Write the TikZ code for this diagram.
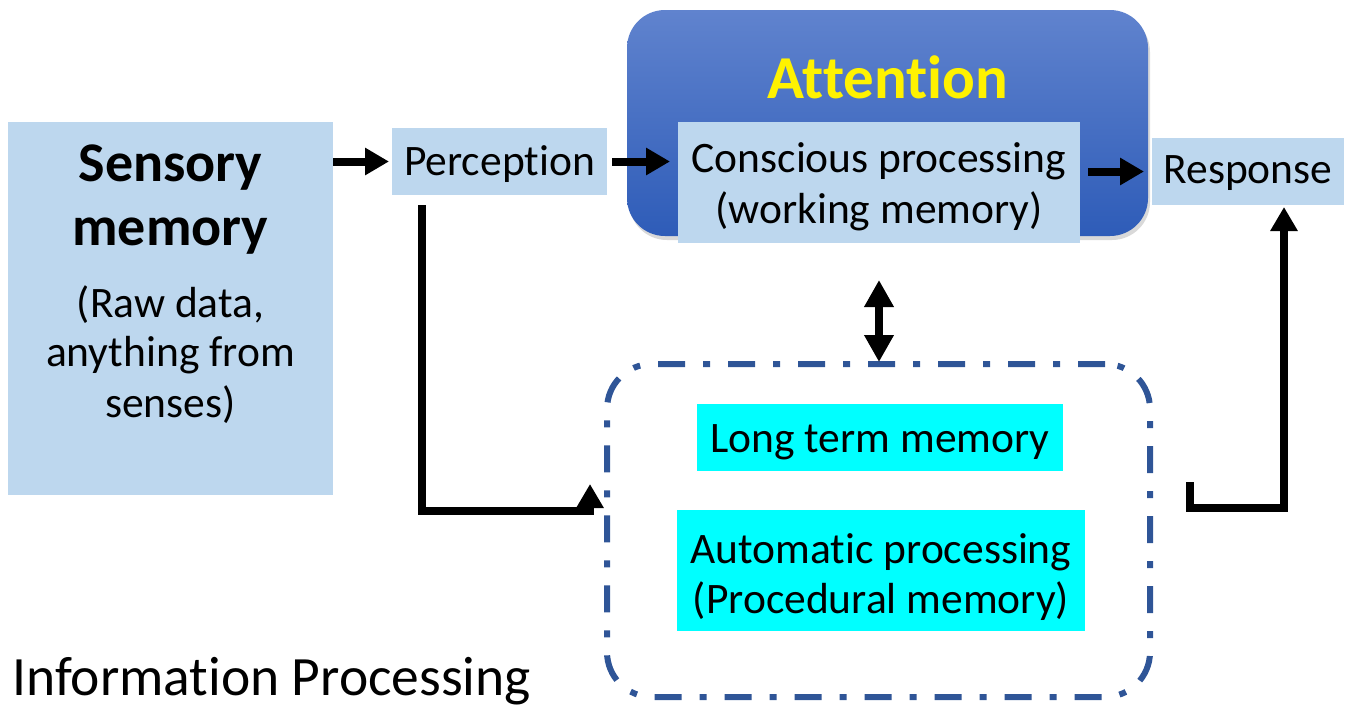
\documentclass[tikz,border=0pt]{standalone}
\usepackage{fontspec}
\setmainfont{Carlito}[Ligatures=NoCommon]
\usetikzlibrary{arrows.meta,shadows}
\definecolor{lblue}{RGB}{189,215,238}
\definecolor{attop}{RGB}{96,131,206}
\definecolor{atbot}{RGB}{46,92,184}
\definecolor{dashblue}{RGB}{47,85,151}
\definecolor{cyanbox}{RGB}{0,255,255}
\begin{document}
\begin{tikzpicture}[x=1pt,y=-1pt,
  box/.style={fill=lblue, inner sep=0pt, outer sep=0pt},
  cbox/.style={fill=cyanbox, inner sep=0pt, outer sep=0pt},
  txt/.style={inner sep=0pt, anchor=base, font=\fontsize{43.5}{50}\selectfont},
  btxt/.style={inner sep=0pt, anchor=base, font=\fontsize{56}{64}\selectfont\bfseries},
  arr/.style={line width=8pt, -{Triangle[length=24pt,width=26pt]}},
  dblarr/.style={line width=8pt, {Triangle[length=27pt,width=28pt]}-{Triangle[length=27pt,width=28pt]}},
]
\useasboundingbox (0,0) rectangle (1349,707);

% Attention panel
\node[rounded corners=38pt, top color=attop, bottom color=atbot, draw=none,
      minimum width=521pt, minimum height=226pt, inner sep=0pt, outer sep=0pt,
      drop shadow={shadow xshift=2pt, shadow yshift=-4pt, opacity=0.3}] (attn) at (887.5,123) {};
\node[inner sep=0pt, anchor=base, text=yellow, font=\fontsize{61}{70}\selectfont\bfseries] (ta) at (888,98) {Attention};

% boxes
\node[box, minimum width=325pt, minimum height=373pt] (sens) at (170.5,308.5) {};
\node[box, minimum width=215pt, minimum height=67pt] (perc) at (499.5,161.5) {};
\node[box, minimum width=402pt, minimum height=121pt] (cons) at (879,182.5) {};
\node[box, minimum width=192pt, minimum height=67pt] (resp) at (1248,171.5) {};

% long-term memory region
\node[draw=dashblue, line width=6pt, rounded corners=45pt,
      dash pattern=on 27pt off 18pt on 7pt off 18pt,
      minimum width=543pt, minimum height=333pt, inner sep=0pt, outer sep=0pt] (ltmem) at (878.5,530.5) {};
\node[cbox, minimum width=366pt, minimum height=67pt] (ltm) at (880,437.5) {};
\node[cbox, minimum width=408pt, minimum height=121pt] (auto) at (881,570.5) {};

% texts
\node[btxt] (t1) at (170.5,181) {Sensory};
\node[btxt] (t2) at (170.5,245) {memory};
\node[txt] (t3) at (170.5,317) {(Raw data,};
\node[txt] (t4) at (170.5,366) {anything from};
\node[txt] (t5) at (170.5,417) {senses)};
\node[txt] (tp) at (499.5,175) {Perception};
\node[txt] (tc1) at (879,172) {Conscious processing};
\node[txt] (tc2) at (879,223) {(working memory)};
\node[txt] (tr) at (1248,183) {Response};
\node[txt] (tl) at (880,452) {Long term memory};
\node[txt] (tau1) at (881,563) {Automatic processing};
\node[txt] (tau2) at (881,613) {(Procedural memory)};
\node[inner sep=0pt, anchor=base west, font=\fontsize{55.5}{64}\selectfont] (ti) at (12,695) {Information Processing};

% connectors
\draw[arr, shorten >=3pt] (sens.east |- perc.west) -- (perc.west);
\draw[arr, shorten <=5pt, shorten >=8pt] (perc.east) -- (perc.east -| cons.west);
\draw[arr, shorten <=8pt, shorten >=8pt] (cons.east |- resp.west) -- (resp.west);

\coordinate (lin) at (590,511);
\draw[arr] ([xshift=30pt,yshift=-10pt]perc.south west) |- (lin) -- ++(0,-27);

\coordinate (rout) at (1190,482);
\draw[arr, shorten >=2pt] (rout) -- ++(0,26) -| ([xshift=-60pt]resp.south east);

\draw[dblarr] ([yshift=-37pt]cons.south) -- ([yshift=2pt]cons.south |- ltmem.north);
\end{tikzpicture}
\end{document}
